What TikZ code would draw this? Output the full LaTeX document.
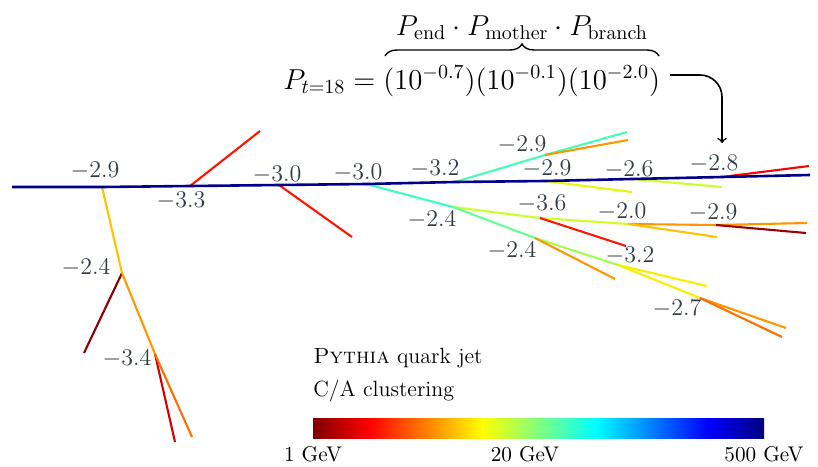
\documentclass[tikz,border=0pt]{standalone}
\usepackage{amsmath}
\usetikzlibrary{decorations.pathreplacing}
\begin{document}
\begin{tikzpicture}[x=0.5pt,y=-0.5pt,
  trunk/.style={draw={rgb,255:red,0;green,0;blue,140},line width=1.3pt},
  br/.style={line width=1.05pt},
  lbl/.style={text={rgb,255:red,50;green,60;blue,72},inner sep=0pt,font=\fontsize{12.3}{14}\selectfont},
  txt/.style={inner sep=0pt,anchor=base west,font=\fontsize{11}{13}\selectfont},
  cbl/.style={inner sep=0pt,anchor=base,font=\fontsize{10.6}{12}\selectfont}]
\useasboundingbox (0,0) rectangle (818,466);
% colours
\definecolor{cDR}{RGB}{140,0,0}
\definecolor{cR}{RGB}{255,20,0}
\definecolor{cRR}{RGB}{210,0,0}
\definecolor{cO}{RGB}{255,150,0}
\definecolor{cDO}{RGB}{255,110,0}
\definecolor{cYO}{RGB}{255,195,0}
\definecolor{cY}{RGB}{245,240,0}
\definecolor{cYG}{RGB}{205,255,40}
\definecolor{cLG}{RGB}{160,255,80}
\definecolor{cG}{RGB}{100,255,150}
\definecolor{cAQ}{RGB}{60,255,190}
% points
\coordinate (t0) at (12,187);
\coordinate (A) at (102,187);
\coordinate (B) at (190,186);
\coordinate (C) at (279,185);
\coordinate (D) at (366,184);
\coordinate (E) at (455,182);
\coordinate (F) at (545,181);
\coordinate (G) at (632,179);
\coordinate (H) at (722,177);
\coordinate (t1) at (810,175);
\coordinate (A1) at (122,273);
\coordinate (A1a) at (84,353);
\coordinate (A2) at (155,354);
\coordinate (A2a) at (175,442);
\coordinate (A2b) at (192,437);
\coordinate (Bend) at (260,131);
\coordinate (Cend) at (352,237);
\coordinate (D1) at (453,207);
\coordinate (D2) at (540,218);
\coordinate (D3) at (628,224);
\coordinate (D2r) at (626,246);
\coordinate (D4) at (716,225);
\coordinate (D3y) at (717,237);
\coordinate (D4o) at (807,223);
\coordinate (D4r) at (806,233);
\coordinate (K1) at (535,238);
\coordinate (K2) at (618,265);
\coordinate (K1o) at (615,279);
\coordinate (K2y) at (707,286);
\coordinate (K3) at (700,298);
\coordinate (K3a) at (786,328);
\coordinate (K3b) at (782,337);
\coordinate (E1) at (545,155);
\coordinate (E1g) at (627,132);
\coordinate (E1o) at (628,140);
\coordinate (Fy) at (632,192);
\coordinate (Gg) at (722,187);
\coordinate (Hr) at (809,166);
% branches
\draw[br,cYO] (A) -- (A1);
\draw[br,cDR] (A1) -- (A1a);
\draw[br,cO] (A1) -- (A2);
\draw[br,cRR] (A2) -- (A2a);
\draw[br,cDO] (A2) -- (A2b);
\draw[br,cR] (B) -- (Bend);
\draw[br,cR] (C) -- (Cend);
\draw[br,cAQ] (D) -- (D1);
\draw[br,cYG] (D1) -- (D2);
\draw[br,cYG] (D2) -- (D3);
\draw[br,cR] (D2) -- (D2r);
\draw[br,cO] (D3) -- (D4);
\draw[br,cYO] (D3) -- (D3y);
\draw[br,cO] (D4) -- (D4o);
\draw[br,cDR!85!red] (D4) -- (D4r);
\draw[br,cG] (D1) -- (K1);
\draw[br,cLG] (K1) -- (K2);
\draw[br,cO] (K1) -- (K1o);
\draw[br,cY] (K2) -- (K2y);
\draw[br,cY] (K2) -- (K3);
\draw[br,cO] (K3) -- (K3a);
\draw[br,cDO] (K3) -- (K3b);
\draw[br,cAQ!80!cG] (E) -- (E1);
\draw[br,cAQ!80!cG] (E1) -- (E1g);
\draw[br,cO] (E1) -- (E1o);
\draw[br,cY!70!cYG] (F) -- (Fy);
\draw[br,cYG] (G) -- (Gg);
\draw[br,red] (H) -- (Hr);
% trunk
\draw[trunk] (t0) -- (A) -- (B) -- (C) -- (D) -- (E) -- (F) -- (G) -- (H) -- (t1);
% labels
\node[lbl] (l1) at (95,171) {$-2.9$};
\node[lbl] (l2) at (181,201) {$-3.3$};
\node[lbl] (l3) at (277,175) {$-3.0$};
\node[lbl] (l4) at (358,173) {$-3.0$};
\node[lbl] (l5) at (435,169) {$-3.2$};
\node[lbl] (l6) at (522,145) {$-2.9$};
\node[lbl] (l7) at (547,169) {$-2.9$};
\node[lbl] (l8) at (629,170) {$-2.6$};
\node[lbl] (l9) at (714,164) {$-2.8$};
\node[lbl] (l10) at (432,220) {$-2.4$};
\node[lbl] (l11) at (542,204) {$-3.6$};
\node[lbl] (l12) at (622,212) {$-2.0$};
\node[lbl] (l13) at (713,213) {$-2.9$};
\node[lbl] (l14) at (512,251) {$-2.4$};
\node[lbl] (l15) at (630,256) {$-3.2$};
\node[lbl] (l16) at (677,309) {$-2.7$};
\node[lbl] (l17) at (86,268) {$-2.4$};
\node[lbl] (l18) at (127,359) {$-3.4$};
% equation
\node[inner sep=0pt,anchor=base west,font=\fontsize{14.3}{17}\selectfont] (eq) at (283,89)
  {$P_{t=18} = (10^{-0.7})(10^{-0.1})(10^{-2.0})$};
\coordinate (brL) at (385,56);
\coordinate (brR) at (659,56);
\draw[line width=0.7pt,decorate,decoration={brace,amplitude=6pt}] (brL) -- (brR);
\node[inner sep=0pt,anchor=base,font=\fontsize{14.3}{17}\selectfont] (ob) at (522,35)
  {$P_{\mathrm{end}}\cdot P_{\mathrm{mother}}\cdot P_{\mathrm{branch}}$};
\coordinate (arrS) at (670,75);
\draw[->,line width=0.8pt,rounded corners=11pt] (arrS) -| ([yshift=17pt]H);
% legend
\node[txt] (t1txt) at (313,363) {\textsc{Pythia} quark jet};
\node[txt] (t2txt) at (313,396) {C/A clustering};
% colour bar
\shade[left color={rgb,1:red,0.5;green,0;blue,0},right color={rgb,1:red,1;green,0;blue,0}] (313,418) rectangle (369.5,438);
\shade[left color={rgb,1:red,1;green,0;blue,0},right color={rgb,1:red,1;green,1;blue,0}] (369,418) rectangle (482.5,438);
\shade[left color={rgb,1:red,1;green,1;blue,0},right color={rgb,1:red,0;green,1;blue,1}] (482,418) rectangle (595.5,438);
\shade[left color={rgb,1:red,0;green,1;blue,1},right color={rgb,1:red,0;green,0;blue,1}] (595,418) rectangle (708,438);
\shade[left color={rgb,1:red,0;green,0;blue,1},right color={rgb,1:red,0;green,0;blue,0.5}] (707.5,418) rectangle (764,438);
\node[cbl] (c1) at (313,461) {1 GeV};
\node[cbl] (c2) at (525,461) {20 GeV};
\node[cbl] (c3) at (764,461) {500 GeV};
\end{tikzpicture}
\end{document}
